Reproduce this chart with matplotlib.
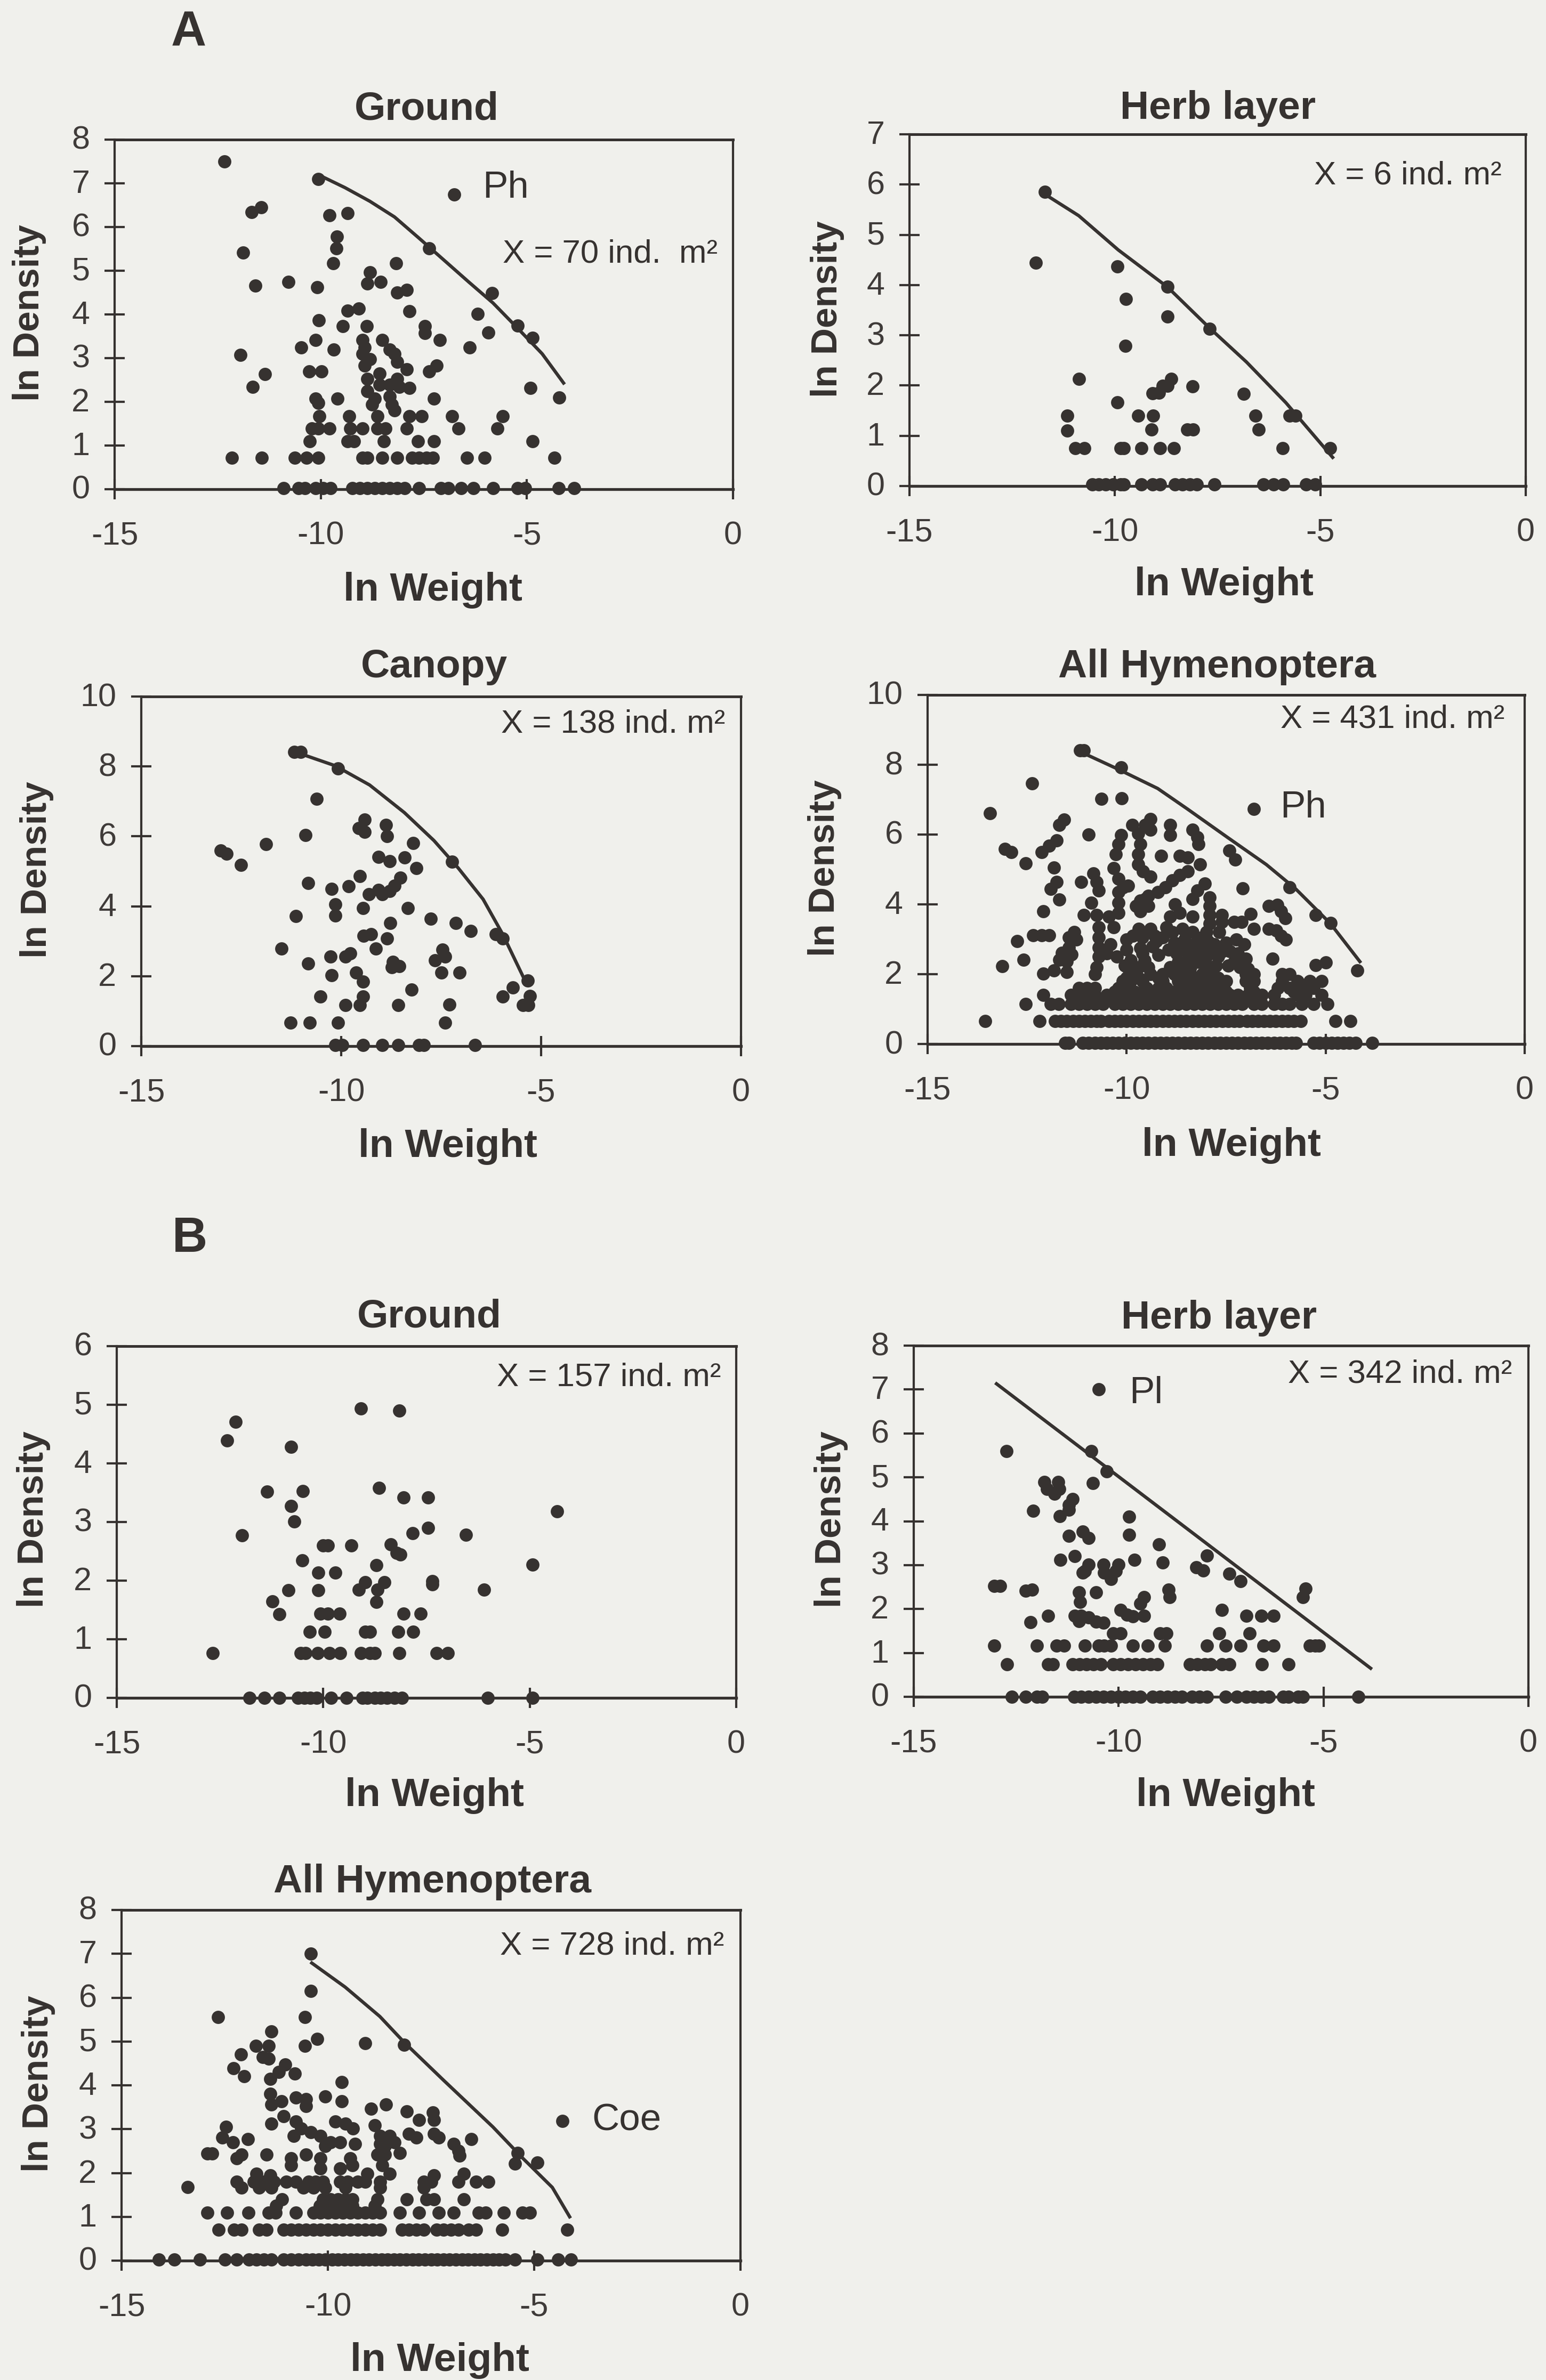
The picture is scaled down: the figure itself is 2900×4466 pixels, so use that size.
import numpy as np
import matplotlib
matplotlib.use("Agg")
from matplotlib import pyplot as plt
from matplotlib.transforms import ScaledTranslation

W, H = 2900, 4466
BG = "#f0f0ec"
INK = "#363230"
plt.rcParams["font.family"] = ["Liberation Sans", "DejaVu Sans"]

# ---- A: Ground
a_ground_pts = [(-12.33, 7.5), (-10.06, 7.1), (-6.76, 6.75), (-11.68, 6.34), (-11.44, 6.45), (-9.79, 6.27), (-9.35, 6.32),
                (-9.61, 5.78), (-9.62, 5.51), (-11.88, 5.42), (-7.37, 5.51), (-9.7, 5.17), (-8.17, 5.17), (-11.59, 4.66),
                (-10.78, 4.75), (-10.09, 4.62), (-8.81, 4.96), (-8.87, 4.71), (-8.55, 4.75), (-8.15, 4.5), (-7.91, 4.56),
                (-5.84, 4.49), (-7.85, 4.07), (-9.08, 4.13), (-9.35, 4.08), (-6.2, 4.01), (-10.05, 3.86), (-9.47, 3.73),
                (-8.89, 3.73), (-7.47, 3.73), (-7.47, 3.57), (-5.94, 3.59), (-5.22, 3.74), (-4.86, 3.46), (-10.12, 3.41),
                (-7.11, 3.41), (-10.48, 3.25), (-9.68, 3.19), (-6.39, 3.25), (-11.95, 3.07), (-8.99, 3.41), (-8.93, 3.24),
                (-8.99, 3.1), (-8.51, 3.41), (-8.33, 3.19), (-8.21, 3.1), (-8.15, 2.92), (-7.91, 2.74), (-8.81, 2.97),
                (-8.93, 2.83), (-7.19, 2.83), (-7.37, 2.7), (-10.28, 2.7), (-9.98, 2.7), (-11.35, 2.63), (-11.65, 2.34),
                (-8.87, 2.52), (-8.57, 2.65), (-8.15, 2.52), (-7.85, 2.32), (-8.87, 2.25), (-8.57, 2.39), (-8.33, 2.39),
                (-4.92, 2.32), (-10.12, 2.07), (-9.6, 2.07), (-7.25, 2.07), (-4.21, 2.1), (-10.06, 1.97), (-8.69, 2.07),
                (-8.75, 1.94), (-8.33, 2.12), (-8.27, 1.94), (-8.21, 1.81), (-10.03, 1.67), (-9.31, 1.67), (-8.63, 1.67),
                (-7.85, 1.67), (-7.55, 1.67), (-6.81, 1.67), (-5.58, 1.67), (-8.09, 2.34)]
a_ground_x139 = [-10.22, -10.06, -9.79, -9.29, -8.99, -8.63, -8.43, -7.91, -6.66, -5.72]
a_ground_x110 = [-10.27, -9.35, -9.2, -8.47, -7.64, -7.25, -4.86]
a_ground_x072 = [-12.15, -11.43, -10.63, -10.34, -10.06, -8.99, -8.87, -8.51, -8.15, -7.79, -7.61, -7.43, -7.28, -6.45, -6.02, -4.33]
a_ground_x0 = [-10.9, -10.54, -10.39, -10.12, -9.94, -9.76, -9.23, -9.05, -8.87, -8.69, -8.51, -8.33, -8.15, -7.97, -7.61,
               -7.08, -6.9, -6.6, -6.3, -5.82, -5.22, -5.04, -4.23, -3.85]
a_ground_curve_x = [-10.0, -9.41, -8.81, -8.21, -7.61, -7.02, -6.42, -5.82, -5.22, -4.63, -4.11]
a_ground_curve_y = [7.17, 6.9, 6.59, 6.23, 5.74, 5.25, 4.75, 4.26, 3.68, 3.1, 2.43]

# ---- A: Herb layer
a_herb_pts = [(-11.71, 5.85), (-11.92, 4.44), (-9.94, 4.37), (-9.73, 3.72), (-8.72, 3.97), (-8.72, 3.37), (-7.69, 3.13),
              (-9.74, 2.79), (-10.88, 2.13), (-8.63, 2.13), (-8.72, 1.99), (-8.84, 1.99), (-9.08, 1.85), (-8.93, 1.86),
              (-8.11, 1.98), (-6.86, 1.83), (-9.94, 1.66), (-11.16, 1.4), (-9.43, 1.4), (-9.07, 1.4), (-6.58, 1.4),
              (-5.75, 1.4), (-5.6, 1.4), (-11.16, 1.1), (-9.11, 1.12), (-8.24, 1.12), (-8.1, 1.12), (-6.5, 1.12)]
a_herb_x075 = [-10.96, -10.74, -9.86, -9.78, -9.35, -8.9, -8.56, -5.92, -4.76]
a_herb_x0 = [-10.55, -10.4, -10.22, -10.04, -9.86, -9.78, -9.35, -9.08, -8.9, -8.54, -8.36, -8.18, -8.0, -7.58, -6.38, -6.14, -5.9, -5.34, -5.12]
a_herb_curve_x = [-11.71, -10.88, -9.92, -8.72, -7.69, -6.8, -5.84, -4.7]
a_herb_curve_y = [5.81, 5.38, 4.7, 3.96, 3.14, 2.47, 1.66, 0.57]

# ---- A: Canopy
a_canopy_pts = [(-11.18, 8.41), (-11.01, 8.41), (-10.08, 7.94), (-10.62, 7.07), (-9.41, 6.48), (-9.56, 6.23), (-9.41, 6.13),
                (-8.88, 6.33), (-8.86, 6.01), (-10.89, 6.03), (-11.88, 5.78), (-13.01, 5.6), (-12.87, 5.51), (-12.51, 5.19),
                (-8.2, 5.81), (-9.07, 5.41), (-8.79, 5.29), (-8.42, 5.39), (-8.12, 5.09), (-7.23, 5.27), (-9.53, 4.87),
                (-10.83, 4.66), (-10.24, 4.49), (-9.82, 4.57), (-9.31, 4.35), (-9.07, 4.47), (-8.98, 4.35), (-8.79, 4.44),
                (-8.67, 4.59), (-8.52, 4.81), (-10.15, 4.05), (-9.45, 3.95), (-8.34, 3.95), (-11.14, 3.72), (-10.15, 3.74),
                (-7.76, 3.65), (-7.13, 3.52), (-6.76, 3.3), (-8.77, 3.52), (-6.14, 3.2), (-5.96, 3.08), (-9.44, 3.15),
                (-9.26, 3.2), (-8.86, 3.08), (-11.5, 2.79), (-9.14, 2.79), (-7.47, 2.76), (-9.78, 2.66), (-9.9, 2.56),
                (-10.27, 2.56), (-7.4, 2.56), (-7.66, 2.46), (-10.83, 2.36), (-8.71, 2.41), (-8.73, 2.26), (-8.55, 2.28),
                (-10.24, 2.03), (-9.63, 2.11), (-7.5, 2.11), (-7.04, 2.11), (-9.45, 1.84), (-5.34, 1.87), (-8.24, 1.62),
                (-5.71, 1.67), (-10.52, 1.42), (-9.45, 1.42), (-5.96, 1.42), (-5.28, 1.44), (-9.9, 1.17), (-9.53, 1.17),
                (-8.57, 1.17), (-7.29, 1.19), (-5.46, 1.17), (-5.32, 1.17)]
a_canopy_x067 = [-11.27, -10.79, -10.08, -7.4]
a_canopy_x0 = [-10.15, -9.97, -9.45, -8.98, -8.57, -8.05, -7.93, -6.66]
a_canopy_curve_x = [-11.01, -10.15, -9.29, -8.42, -7.68, -7.07, -6.45, -5.96, -5.46]
a_canopy_curve_y = [8.36, 8.02, 7.47, 6.68, 5.88, 5.09, 4.2, 3.2, 2.01]

# ---- A: All Hymenoptera
a_all_pts = [(-11.17, 8.41), (-11.07, 8.41), (-10.14, 7.92), (-12.37, 7.47), (-10.64, 7.02), (-10.13, 7.04), (-13.43, 6.61),
             (-6.8, 6.73), (-11.57, 6.43), (-11.69, 6.28), (-10.95, 6.0), (-13.06, 5.59), (-12.9, 5.49), (-12.54, 5.17),
             (-12.13, 5.49), (-11.94, 5.68), (-11.76, 5.83), (-11.82, 5.06), (-11.76, 4.64), (-11.9, 4.44), (-11.69, 4.13),
             (-11.14, 4.64), (-12.09, 3.8), (-12.35, 3.11), (-12.13, 3.11), (-11.94, 3.11), (-12.75, 2.94), (-12.59, 2.41),
             (-13.12, 2.23), (-12.54, 1.15), (-13.55, 0.65), (-12.19, 0.65), (-5.91, 4.49), (-5.25, 3.7), (-4.88, 3.47),
             (-4.2, 2.11), (-7.09, 4.46), (-6.89, 3.73), (-6.8, 3.3), (-6.43, 3.95), (-6.22, 3.98), (-6.12, 3.8), (-6.02, 3.6),
             (-6.43, 3.3), (-6.24, 3.25), (-6.12, 3.1), (-6.0, 3.0), (-6.34, 2.44), (-5.25, 2.26), (-5.0, 2.34), (-7.42, 5.54),
             (-7.27, 5.29), (-8.35, 6.13), (-8.22, 5.93), (-8.2, 5.73), (-8.91, 6.28), (-8.91, 5.98), (-9.4, 6.45), (-9.53, 6.28),
             (-9.86, 6.28), (-9.4, 6.13), (-9.71, 6.03), (-10.14, 5.98), (-10.21, 5.73), (-10.27, 5.44), (-9.65, 5.73),
             (-9.71, 5.44), (-9.71, 5.14), (-9.59, 4.94), (-9.4, 4.79), (-9.13, 5.39), (-8.66, 5.39), (-8.47, 5.34), (-8.16, 5.14),
             (-10.33, 5.04), (-10.21, 4.74), (-10.08, 4.49), (-9.96, 4.54), (-10.21, 4.35), (-10.83, 4.89), (-10.76, 4.64),
             (-10.7, 4.39), (-10.89, 4.05), (-11.07, 3.7), (-10.76, 3.7), (-10.45, 3.65), (-10.21, 4.05), (-10.21, 3.75),
             (-8.47, 4.94), (-8.66, 4.84), (-8.85, 4.69), (-9.03, 4.49), (-9.22, 4.35), (-9.46, 4.25), (-9.65, 4.1), (-9.77, 3.95),
             (-9.65, 3.8), (-9.46, 3.95), (-9.65, 3.95), (-9.53, 4.15), (-8.04, 4.59), (-8.22, 4.39), (-8.35, 4.15), (-7.92, 4.2),
             (-7.92, 3.95), (-8.78, 4.0), (-8.91, 3.65), (-8.66, 3.75), (-8.35, 3.65), (-7.92, 3.7), (-7.61, 3.7), (-7.92, 3.45),
             (-7.61, 3.5), (-7.3, 3.5), (-7.11, 3.5), (-7.67, 3.2), (-11.32, 3.2), (-11.45, 3.06), (-11.26, 3.0), (-11.45, 2.76),
             (-11.63, 2.61), (-11.38, 2.56), (-11.69, 2.41), (-11.51, 2.36), (-11.82, 2.11), (-11.51, 2.06), (-12.09, 2.01),
             (-10.7, 3.35), (-10.7, 3.06), (-10.7, 2.76), (-10.33, 3.35), (-10.7, 2.5), (-10.75, 2.2), (-10.4, 2.85), (-10.5, 2.6),
             (-10.25, 2.5), (-10.05, 2.25), (-10.0, 2.7), (-9.85, 3.1), (-9.9, 2.4), (-9.7, 3.3), (-9.6, 3.05), (-9.65, 2.75),
             (-9.55, 2.4), (-9.7, 2.2), (-9.4, 3.3), (-9.3, 3.1), (-9.35, 2.8), (-9.2, 2.55), (-9.0, 3.35), (-9.1, 3.05),
             (-8.95, 2.7), (-8.85, 3.2), (-8.8, 2.9), (-8.75, 2.6), (-8.7, 2.35), (-8.6, 3.3), (-8.55, 3.0), (-8.5, 2.7),
             (-8.45, 2.45), (-8.4, 2.2), (-8.35, 3.2), (-8.3, 2.85), (-8.25, 2.6), (-8.2, 2.35), (-8.1, 3.05), (-8.05, 2.75),
             (-8.0, 2.5), (-7.9, 2.2), (-7.8, 2.85), (-7.7, 2.5), (-7.5, 2.9), (-7.4, 2.65), (-7.3, 2.35), (-7.45, 2.25),
             (-7.2, 2.6), (-7.15, 2.2), (-7.0, 2.45), (-6.95, 2.15), (-7.25, 3.0), (-7.05, 2.85), (-10.0, 3.0), (-9.95, 2.15),
             (-9.6, 2.6), (-9.45, 2.2), (-9.25, 2.95), (-8.9, 2.2), (-8.65, 2.8), (-8.6, 2.2), (-8.3, 2.4), (-8.2, 3.0),
             (-8.05, 2.3), (-8.0, 3.2), (-7.95, 2.95), (-7.85, 2.65), (-7.75, 2.25), (-7.6, 2.65)]
a_all_x200 = [-10.8, -9.9, -9.4, -9.1, -8.8, -8.4, -8.1, -7.9, -7.0, -6.8, -6.1, -5.9]
a_all_x190 = [-10.0, -9.7, -9.2, -8.6, -8.3, -8.0, -7.7]
a_all_x180 = [-10.1, -9.9, -9.6, -9.1, -8.7, -8.4, -8.2, -8.0, -7.8, -7.5, -7.0, -6.8, -6.1, -5.7, -5.4, -5.1]
a_all_x160 = [-11.2, -11.0, -10.8, -10.2, -10.0, -9.5, -9.2, -9.0, -8.6, -8.4, -8.2, -8.0, -7.7, -6.9, -6.2, -5.9, -5.6, -5.3]
a_all_x150 = [-11.1, -10.3, -10.1, -9.8, -9.6, -9.3, -8.8, -8.6, -8.4, -8.2, -8.0, -7.8, -7.5, -6.8, -5.8]
a_all_x140 = [-12.1, -11.4, -11.2, -11.0, -10.8, -10.5, -10.3, -10.1, -9.9, -9.7, -9.4, -9.2, -9.0, -8.7, -8.5, -8.3, -8.1, -7.9,
              -7.6, -7.4, -7.2, -6.95, -6.6, -6.3, -5.7, -5.5, -5.1]
a_all_x130 = [-11.3, -11.1, -10.9, -10.4, -10.2, -10.0, -9.8, -9.6, -9.3, -9.1, -8.9, -8.6, -8.4, -8.2, -8.0, -7.8, -7.5, -7.3, -7.1]
a_all_x115 = [-11.9, -11.7, -11.4, -11.2, -11.0, -10.8, -10.6, -10.3, -10.1, -9.9, -9.7, -9.5, -9.3, -9.1, -8.9, -8.7, -8.5, -8.3,
              -8.1, -7.9, -7.7, -7.5, -7.3, -7.1, -6.8, -6.6, -6.3, -6.1, -5.9, -5.6, -5.3, -4.95]
a_all_x065 = [-11.8, -11.65, -11.5, -11.35, -11.2, -11.05, -10.9, -10.75, -10.65, -10.45, -10.3, -10.15, -10.0, -9.85, -9.7, -9.55,
              -9.4, -9.25, -9.1, -8.95, -8.8, -8.65, -8.5, -8.35, -8.2, -8.05, -7.9, -7.75, -7.6, -7.45, -7.3, -7.17, -6.98, -6.85,
              -6.7, -6.55, -6.4, -6.25, -6.1, -5.95, -5.8, -5.62, -4.76, -4.38]
a_all_x0 = [-11.55, -11.45, -11.1, -10.95, -10.8, -10.65, -10.5, -10.35, -10.2, -10.05, -9.9, -9.75, -9.6, -9.45, -9.3, -9.15, -9.0,
            -8.85, -8.7, -8.55, -8.4, -8.25, -8.1, -7.95, -7.8, -7.65, -7.5, -7.35, -7.2, -7.05, -6.9, -6.75, -6.6, -6.45, -6.3,
            -6.15, -6.0, -5.85, -5.75, -5.3, -5.15, -5.0, -4.85, -4.7, -4.55, -4.4, -4.25, -3.83]
a_all_curve_x = [-11.14, -10.21, -9.22, -8.47, -7.48, -6.49, -5.75, -4.88, -4.14]
a_all_curve_y = [8.36, 7.87, 7.32, 6.73, 5.93, 5.14, 4.44, 3.45, 2.36]

# ---- B: Ground (no fitted line in this one)
b_ground_pts = [(-9.09, 4.94), (-8.16, 4.9), (-12.12, 4.71), (-12.33, 4.39), (-10.78, 4.28), (-11.36, 3.52), (-10.5, 3.53),
                (-8.65, 3.58), (-8.06, 3.42), (-7.46, 3.42), (-10.78, 3.27), (-4.34, 3.18), (-10.7, 3.01), (-7.46, 2.9),
                (-7.83, 2.81), (-6.54, 2.78), (-11.97, 2.77), (-10.01, 2.6), (-9.89, 2.6), (-9.32, 2.6), (-8.36, 2.62),
                (-8.22, 2.47), (-8.13, 2.45), (-10.51, 2.35), (-4.93, 2.27), (-8.71, 2.26), (-10.12, 2.14), (-9.71, 2.14),
                (-8.99, 1.97), (-8.52, 1.97), (-7.36, 1.99), (-7.36, 1.94), (-9.14, 1.85), (-8.69, 1.85), (-10.84, 1.84),
                (-10.12, 1.84), (-6.1, 1.85), (-11.23, 1.65), (-8.71, 1.64), (-11.06, 1.43), (-10.07, 1.44), (-9.89, 1.44),
                (-9.61, 1.44), (-8.06, 1.44), (-7.64, 1.44), (-10.33, 1.13), (-9.97, 1.13), (-8.99, 1.13), (-8.87, 1.13),
                (-8.18, 1.13), (-7.82, 1.13)]
b_ground_x076 = [-12.67, -10.55, -10.43, -10.13, -9.85, -9.59, -9.09, -8.87, -8.75, -8.16, -7.25, -6.99]
b_ground_x0 = [-11.78, -11.42, -11.06, -10.61, -10.46, -10.31, -10.16, -9.81, -9.44, -9.05, -8.93, -8.75, -8.61, -8.45, -8.28, -8.1, -6.01, -4.93]

# ---- B: Herb layer
b_herb_pts = [(-10.49, 7.0), (-12.74, 5.6), (-10.67, 5.6), (-10.29, 5.14), (-10.63, 4.87), (-11.81, 4.89), (-11.48, 4.89),
              (-11.75, 4.74), (-11.57, 4.63), (-11.45, 4.74), (-11.12, 4.5), (-11.21, 4.37), (-11.21, 4.26), (-12.08, 4.24),
              (-11.43, 4.11), (-9.74, 4.1), (-11.21, 3.67), (-10.87, 3.76), (-10.73, 3.62), (-9.74, 3.69), (-9.01, 3.47),
              (-11.42, 3.12), (-11.07, 3.21), (-9.61, 3.12), (-8.93, 3.06), (-7.84, 3.22), (-10.73, 3.01), (-10.83, 2.86),
              (-10.87, 2.83), (-10.37, 3.01), (-10.35, 2.83), (-10.19, 2.68), (-10.01, 3.01), (-10.07, 2.86), (-8.11, 2.95),
              (-7.94, 2.88), (-7.3, 2.81), (-7.03, 2.64), (-13.04, 2.53), (-12.89, 2.53), (-12.27, 2.42), (-12.11, 2.44),
              (-5.44, 2.47), (-5.5, 2.27), (-10.97, 2.38), (-10.55, 2.38), (-8.78, 2.44), (-8.75, 2.27), (-10.94, 2.16),
              (-9.38, 2.27), (-9.47, 2.13), (-7.48, 1.98), (-9.95, 1.98), (-11.72, 1.85), (-11.07, 1.85), (-10.91, 1.85),
              (-10.73, 1.81), (-9.79, 1.87), (-9.65, 1.83), (-9.38, 1.85), (-6.88, 1.85), (-6.52, 1.85), (-6.22, 1.85),
              (-12.15, 1.7), (-10.97, 1.72), (-10.55, 1.71), (-10.37, 1.69), (-10.13, 1.44), (-9.95, 1.44), (-8.99, 1.44),
              (-8.83, 1.44), (-7.54, 1.44), (-6.8, 1.44)]
b_herb_x116 = [-13.03, -11.99, -11.51, -11.33, -10.83, -10.49, -10.35, -10.19, -9.65, -9.29, -8.87, -7.84, -7.39, -7.03, -6.46, -6.22, -5.34, -5.2, -5.11]
b_herb_x074 = [-12.72, -11.72, -11.6, -11.12, -10.95, -10.79, -10.61, -10.43, -10.13, -9.95, -9.77, -9.59, -9.41, -9.23, -9.05,
               -8.26, -8.08, -7.9, -7.75, -7.48, -7.3, -6.5, -5.86]
b_herb_x0 = [-12.6, -12.27, -11.99, -11.87, -11.09, -10.91, -10.73, -10.55, -10.37, -10.19, -10.01, -9.83, -9.65, -9.47, -9.17,
             -8.99, -8.81, -8.63, -8.45, -8.21, -8.03, -7.84, -7.39, -7.12, -6.88, -6.7, -6.52, -6.34, -5.98, -5.86, -5.62, -5.5, -4.15]
b_herb_line_x = [-12.98, -3.85]
b_herb_line_y = [7.13, 0.65]

# ---- B: All Hymenoptera
b_all_pts = [(-10.41, 7.0), (-10.41, 6.15), (-10.56, 5.56), (-12.66, 5.56), (-11.37, 5.23), (-10.26, 5.06), (-10.56, 4.9),
             (-9.09, 4.96), (-8.15, 4.93), (-11.75, 4.9), (-11.43, 4.9), (-12.11, 4.7), (-11.57, 4.64), (-11.43, 4.61),
             (-12.29, 4.39), (-11.04, 4.47), (-11.19, 4.31), (-10.8, 4.27), (-12.03, 4.21), (-11.39, 4.15), (-9.67, 4.07),
             (-11.39, 3.8), (-10.06, 3.74), (-9.67, 3.64), (-10.77, 3.72), (-10.53, 3.68), (-10.53, 3.52), (-11.13, 3.64),
             (-11.37, 3.56), (-8.59, 3.56), (-8.95, 3.46), (-8.09, 3.4), (-7.45, 3.38), (-7.43, 3.21), (-7.79, 3.21),
             (-4.32, 3.19), (-11.37, 3.13), (-11.07, 3.29), (-10.77, 3.17), (-10.65, 3.01), (-10.83, 2.85), (-10.41, 2.93),
             (-10.18, 2.85), (-9.94, 2.7), (-9.82, 3.17), (-9.39, 3.01), (-9.58, 3.13), (-9.7, 2.7), (-10.06, 2.62), (-8.86, 3.09),
             (-8.74, 2.85), (-8.5, 2.85), (-8.62, 2.62), (-8.38, 2.7), (-8.74, 2.66), (-8.03, 2.89), (-7.85, 2.81), (-7.43, 2.89),
             (-7.31, 2.81), (-6.53, 2.77), (-6.95, 2.66), (-6.83, 2.5), (-6.81, 2.4), (-8.26, 2.46), (-9.34, 2.66), (-12.47, 3.05),
             (-12.56, 2.81), (-12.3, 2.7), (-11.94, 2.77), (-12.92, 2.44), (-12.8, 2.44), (-12.09, 2.42), (-12.21, 2.34),
             (-11.49, 2.42), (-10.53, 2.42), (-10.89, 2.34), (-10.89, 2.18), (-10.18, 2.34), (-9.46, 2.34), (-9.4, 2.18),
             (-8.8, 2.42), (-8.62, 2.42), (-8.68, 2.18), (-5.4, 2.46), (-5.46, 2.21), (-4.92, 2.24), (-11.73, 1.98), (-11.39, 1.95),
             (-10.18, 2.1), (-9.7, 2.1), (-9.04, 1.98), (-8.5, 1.98), (-7.43, 1.95), (-6.71, 1.98), (-13.4, 1.68)]
b_all_x180 = [-12.21, -11.79, -11.55, -11.31, -11.01, -10.77, -10.47, -10.3, -10.12, -9.7, -9.52, -9.28, -9.1, -8.74, -7.67, -7.49, -6.84, -6.41, -6.11]
b_all_x167 = [-12.09, -11.67, -11.37, -10.59, -10.35, -10.06, -9.58, -8.74, -7.67]
b_all_x140 = [-11.11, -10.12, -9.94, -9.76, -9.58, -9.4, -8.8, -8.09, -7.61, -7.43, -6.71]
b_all_x125 = [-11.25, -10.2, -10.0, -9.8, -9.6, -9.4, -8.86]
b_all_x110 = [-12.92, -12.44, -11.93, -11.43, -11.27, -10.77, -10.35, -10.18, -10.0, -9.82, -9.64, -9.46, -9.28, -9.1, -8.92, -8.74,
              -8.26, -7.79, -7.31, -6.95, -6.35, -6.17, -5.73, -5.28, -5.1]
b_all_x070 = [-12.65, -12.27, -12.09, -11.67, -11.49, -11.07, -10.89, -10.71, -10.53, -10.35, -10.18, -10.0, -9.82, -9.64, -9.46, -9.28,
              -9.1, -8.92, -8.74, -8.2, -8.03, -7.85, -7.67, -7.37, -7.19, -7.01, -6.83, -6.59, -6.41, -5.78, -4.2]
b_all_x0 = [-14.09, -13.72, -13.1, -12.5, -12.21, -11.91, -11.73, -11.55, -11.37, -11.07, -10.89, -10.71, -10.53, -10.38, -10.22, -10.06,
            -9.9, -9.75, -9.6, -9.45, -9.3, -9.15, -9.0, -8.85, -8.7, -8.55, -8.4, -8.25, -8.1, -7.95, -7.8, -7.65, -7.5, -7.35,
            -7.2, -7.05, -6.9, -6.75, -6.6, -6.45, -6.3, -6.15, -6.0, -5.85, -5.7, -5.46, -4.92, -4.42, -4.11]
b_all_curve_x = [-10.39, -9.58, -8.74, -8.15, -7.19, -6.0, -5.28, -4.56, -4.14]
b_all_curve_y = [6.79, 6.24, 5.57, 4.98, 4.11, 3.05, 2.34, 1.67, 1.0]

x_ticks = [-15, -10, -5, 0]


def rows(pts, *levels):
    # scatter pairs plus the rows of dots that sit on one density level
    xs = [p[0] for p in pts]
    ys = [p[1] for p in pts]
    for y, row in levels:
        xs += row
        ys += [y] * len(row)
    return xs, ys


def px_text(x, y, s, **kw):
    kw.setdefault("color", INK)
    kw.setdefault("ha", "center")
    kw.setdefault("va", "center")
    return fig.text(x / W, 1 - y / H, s, **kw)


panels = [
    dict(box=(215, 262, 1375, 918), ymax=8, title=("Ground", 800, 205), xlab=(812, 1107), ylab=(55, 587),
         note=("X = 70 ind.  m²", 1346, 477), data=rows(a_ground_pts, (1.39, a_ground_x139), (1.1, a_ground_x110), (0.72, a_ground_x072), (0.03, a_ground_x0)),
         curve=(a_ground_curve_x, a_ground_curve_y), tag=("Ph", 905, 353)),
    dict(box=(1706, 252, 2862, 912), ymax=7, title=("Herb layer", 2285, 204), xlab=(2296, 1097), ylab=(1552, 580),
         note=("X = 6 ind. m²", 2817, 330), data=rows(a_herb_pts, (0.75, a_herb_x075), (0.03, a_herb_x0)),
         curve=(a_herb_curve_x, a_herb_curve_y), tag=None),
    dict(box=(265, 1307, 1390, 1963), ymax=10, title=("Canopy", 814, 1252), xlab=(840, 2151), ylab=(69, 1632),
         note=("X = 138 ind. m²", 1360, 1359), data=rows(a_canopy_pts, (0.67, a_canopy_x067), (0.03, a_canopy_x0)),
         curve=(a_canopy_curve_x, a_canopy_curve_y), tag=None),
    dict(box=(1740, 1304, 2860, 1959), ymax=10, title=("All Hymenoptera", 2283, 1252), xlab=(2310, 2149), ylab=(1547, 1629),
         note=("X = 431 ind. m²", 2822, 1350),
         data=rows(a_all_pts, (2.0, a_all_x200), (1.9, a_all_x190), (1.8, a_all_x180), (1.6, a_all_x160), (1.5, a_all_x150), (1.4, a_all_x140),
                   (1.3, a_all_x130), (1.15, a_all_x115), (0.65, a_all_x065), (0.03, a_all_x0)),
         curve=(a_all_curve_x, a_all_curve_y), tag=("Ph", 2401, 1516)),
    dict(box=(219, 2526, 1381, 3186), ymax=6, title=("Ground", 805, 2471), xlab=(815, 3370), ylab=(63, 2851),
         note=("X = 157 ind. m²", 1352, 2585), data=rows(b_ground_pts, (0.76, b_ground_x076), (0.0, b_ground_x0)),
         curve=None, tag=None),
    dict(box=(1714, 2525, 2867, 3184), ymax=8, title=("Herb layer", 2287, 2473), xlab=(2299, 3370), ylab=(1559, 2851),
         note=("X = 342 ind. m²", 2836, 2579), data=rows(b_herb_pts, (1.16, b_herb_x116), (0.74, b_herb_x074), (0.0, b_herb_x0)),
         curve=(b_herb_line_x, b_herb_line_y), tag=("Pl", 2118, 2615)),
    dict(box=(228, 3584, 1389, 4242), ymax=8, title=("All Hymenoptera", 811, 3531), xlab=(825, 4429), ylab=(72, 3910),
         note=("X = 728 ind. m²", 1358, 3652),
         data=rows(b_all_pts, (1.8, b_all_x180), (1.67, b_all_x167), (1.4, b_all_x140), (1.25, b_all_x125), (1.1, b_all_x110), (0.7, b_all_x070), (0.02, b_all_x0)),
         curve=(b_all_curve_x, b_all_curve_y), tag=("Coe", 1110, 3980)),
]

fig = plt.figure(figsize=(W / 100, H / 100), dpi=100, facecolor=BG)
label_up = ScaledTranslation(0, 0.04, fig.dpi_scale_trans)

for p in panels:
    l, t, r, b = p["box"]
    ax = fig.add_axes([l / W, 1 - b / H, (r - l) / W, (b - t) / H], facecolor=BG)
    ax.set_xlim(-15, 0)
    ax.set_ylim(0, p["ymax"])
    ax.scatter(p["data"][0], p["data"][1], s=320, color=INK, linewidths=0, clip_on=False, zorder=3)
    if p["curve"] is not None:
        ax.plot(p["curve"][0], p["curve"][1], color=INK, lw=4.5, clip_on=False, zorder=2)
    ax.set_xticks(x_ticks)
    ax.set_xticklabels([str(v) for v in x_ticks])
    ax.set_yticks(np.arange(0, p["ymax"] + 1, 2 if p["ymax"] == 10 else 1))
    ax.tick_params(axis="both", direction="inout", length=27, width=3, color=INK, labelcolor="#3f3b39", labelsize=44)
    ax.tick_params(axis="x", pad=29)
    ax.tick_params(axis="y", pad=20)
    for lbl in ax.get_yticklabels():
        lbl.set_transform(lbl.get_transform() + label_up)
    for name, spine in ax.spines.items():
        spine.set_color(INK)
        spine.set_linewidth(3)
    ax.spines["top"].set_linewidth(3.6)
    ax.spines["bottom"].set_linewidth(3.8)

    px_text(p["title"][1], p["title"][2], p["title"][0], fontsize=54, fontweight="bold")
    px_text(p["xlab"][0], p["xlab"][1], "ln Weight", fontsize=54, fontweight="bold")
    px_text(p["ylab"][0], p["ylab"][1], "ln Density", fontsize=50, fontweight="bold", rotation=90)
    px_text(p["note"][1], p["note"][2], p["note"][0], fontsize=44.5, ha="right")
    if p["tag"] is not None:
        px_text(p["tag"][1], p["tag"][2], p["tag"][0], fontsize=51, ha="left")

px_text(354, 62, "A", fontsize=66, fontweight="bold")
px_text(356, 2325, "B", fontsize=66, fontweight="bold")

fig.savefig("out.png", dpi=100, facecolor=BG)
